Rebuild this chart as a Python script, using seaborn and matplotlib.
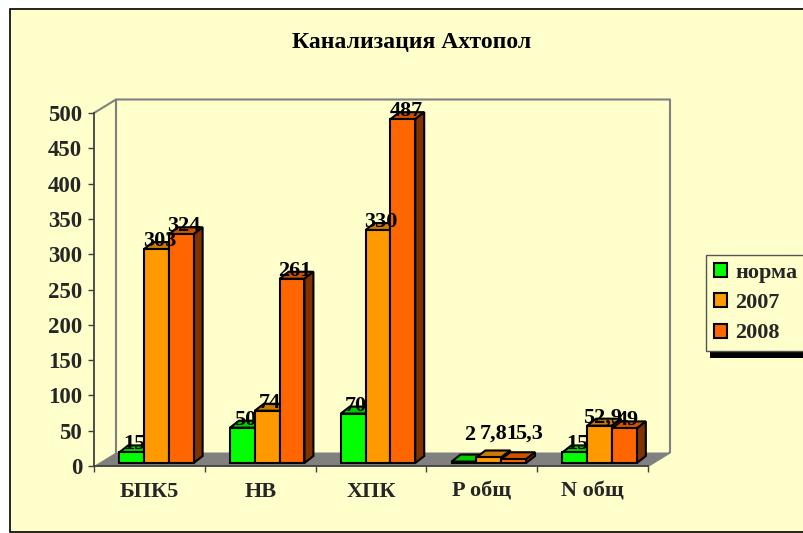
import numpy as np
import pandas as pd
import seaborn as sns
import matplotlib
matplotlib.use("Agg")
import matplotlib.pyplot as plt
from matplotlib.colors import to_rgb
from matplotlib.patches import Polygon, Rectangle

W, H = 804, 533

categories = ["БПК5", "НВ", "ХПК", "P общ", "N общ"]
series_names = ["норма", "2007", "2008"]
norma = [15, 50, 70, 2, 15]
y2007 = [303, 74, 330, 7.81, 52.9]
y2008 = [324, 261, 487, 5.3, 49]
colors = ["#00FF00", "#FF9900", "#FF6600"]

sns.set_style("white")
plt.rcParams["font.family"] = ["Liberation Serif", "DejaVu Serif"]
plt.rcParams["font.weight"] = "bold"

df = pd.DataFrame({
    "cat": categories * 3,
    "series": sum([[s] * len(categories) for s in series_names], []),
    "value": norma + y2007 + y2008,
})

fig = plt.figure(figsize=(W / 100, H / 100), dpi=100, facecolor="white")
fig.add_artist(Rectangle((10 / W, 1 / H), 1, 523 / H, transform=fig.transFigure,
                         fc="#FFFFCC", ec="black", lw=1.2, zorder=-1))
ax = fig.add_axes([94 / W, (H - 466) / H, 554 / W, 353 / H], facecolor="none")

sns.barplot(data=df, x="cat", y="value", hue="series", order=categories,
            hue_order=series_names, palette=colors, saturation=1, width=0.672,
            gap=0, dodge=True, edgecolor="black", linewidth=1.5, errorbar=None,
            legend=True, ax=ax)

ax.set_xlim(-0.5, 4.5)
ax.set_ylim(0, 500)
ax.set_xlabel("")
ax.set_ylabel("")

# пиксели -> единицы данных
px_x = 5 / 554
px_y = 500 / 353
wall_dx, wall_dy = 22 * px_x, 13.5 * px_y
bar_dx, bar_dy = 7 * px_x, 3 * px_y
depth_x, depth_y = 9 * px_x, 7 * px_y

# пол и задняя стенка
x0, x1 = -0.5, 4.5
ax.add_patch(Polygon([(x0, 0), (x1, 0), (x1 + wall_dx, wall_dy), (x0 + wall_dx, wall_dy)],
                     fc="#808080", ec="none", clip_on=False, zorder=1))
wall_x = [x0 + wall_dx, x0 + wall_dx, x1 + wall_dx, x1 + wall_dx, x1]
wall_y = [wall_dy, 500 + wall_dy, 500 + wall_dy, wall_dy, 0]
ax.plot(wall_x, wall_y, color="#808080", lw=1.5, clip_on=False, zorder=1)
ax.plot([x0, x0 + wall_dx], [500, 500 + wall_dy], color="#808080", lw=1.5, clip_on=False, zorder=1)


def shade(color, k):
    return tuple(c * k for c in to_rgb(color))


# объёмные столбцы: рисуем слева направо
label_nudge = {(3, 0): (3, 19), (3, 1): (7, 16), (3, 2): (12, 18)}
for s, (container, col) in enumerate(zip(ax.containers, colors)):
    for c, bar in enumerate(container):
        z = 3 + c * 3 + s * 0.5
        xl = bar.get_x() + bar_dx
        w = bar.get_width()
        top = bar.get_height() + bar_dy
        bar.set_x(xl)
        bar.set_y(bar_dy)
        bar.set_zorder(z + 0.2)
        ax.add_patch(Polygon([(xl, top), (xl + w, top), (xl + w + depth_x, top + depth_y),
                              (xl + depth_x, top + depth_y)],
                             fc=shade(col, 0.8), ec="black", lw=1.5, zorder=z, clip_on=False))
        ax.add_patch(Polygon([(xl + w, bar_dy), (xl + w + depth_x, bar_dy + depth_y),
                              (xl + w + depth_x, top + depth_y), (xl + w, top)],
                             fc=shade(col, 0.5), ec="black", lw=1.5, zorder=z, clip_on=False))
        val = bar.get_height()
        nx, ny = label_nudge.get((c, s), (0, 0))
        ax.text(xl + w / 2 + (3 + nx) * px_x, top + (8 + ny) * px_y,
                f"{val:g}".replace(".", ","), ha="center", va="center",
                fontsize=16, fontweight="bold", color="black", zorder=50, clip_on=False)

for side in ["top", "right"]:
    ax.spines[side].set_visible(False)
for side in ["left", "bottom"]:
    ax.spines[side].set_color("#404040")
    ax.spines[side].set_linewidth(1.3)
    ax.spines[side].set_zorder(2)

ax.set_yticks(np.arange(0, 501, 50))
ax.set_xticks(range(5))
ax.set_xticklabels(categories)
ax.set_xticks(np.arange(-0.5, 5), minor=True)
ax.tick_params(axis="y", left=True, length=4.5, width=1, color="#404040", pad=4, labelsize=16.5)
ax.tick_params(axis="x", which="major", bottom=False, length=0, pad=11.5, labelsize=16)
ax.tick_params(axis="x", which="minor", bottom=True, length=4.5, width=1, color="#404040")

fig.text(412 / W, (H - 42) / H, "Канализация Ахтопол", ha="center", va="center",
         fontsize=17, fontweight="bold", color="black")

leg = ax.legend(loc="upper left", bbox_to_anchor=(706 / W, (H - 255) / H),
                bbox_transform=fig.transFigure, frameon=True, fancybox=False,
                facecolor="#FFFFCC", edgecolor="#555555", framealpha=1, borderaxespad=0,
                fontsize=16, handlelength=0.6, handleheight=0.6, handletextpad=0.36,
                borderpad=0.36, labelspacing=0.46,
                shadow={"ox": 3, "oy": -5, "color": "black", "alpha": 1, "lw": 0})
leg.get_frame().set_linewidth(1)
leg.set_zorder(60)

fig.savefig("out.png", dpi=100, facecolor="white")
